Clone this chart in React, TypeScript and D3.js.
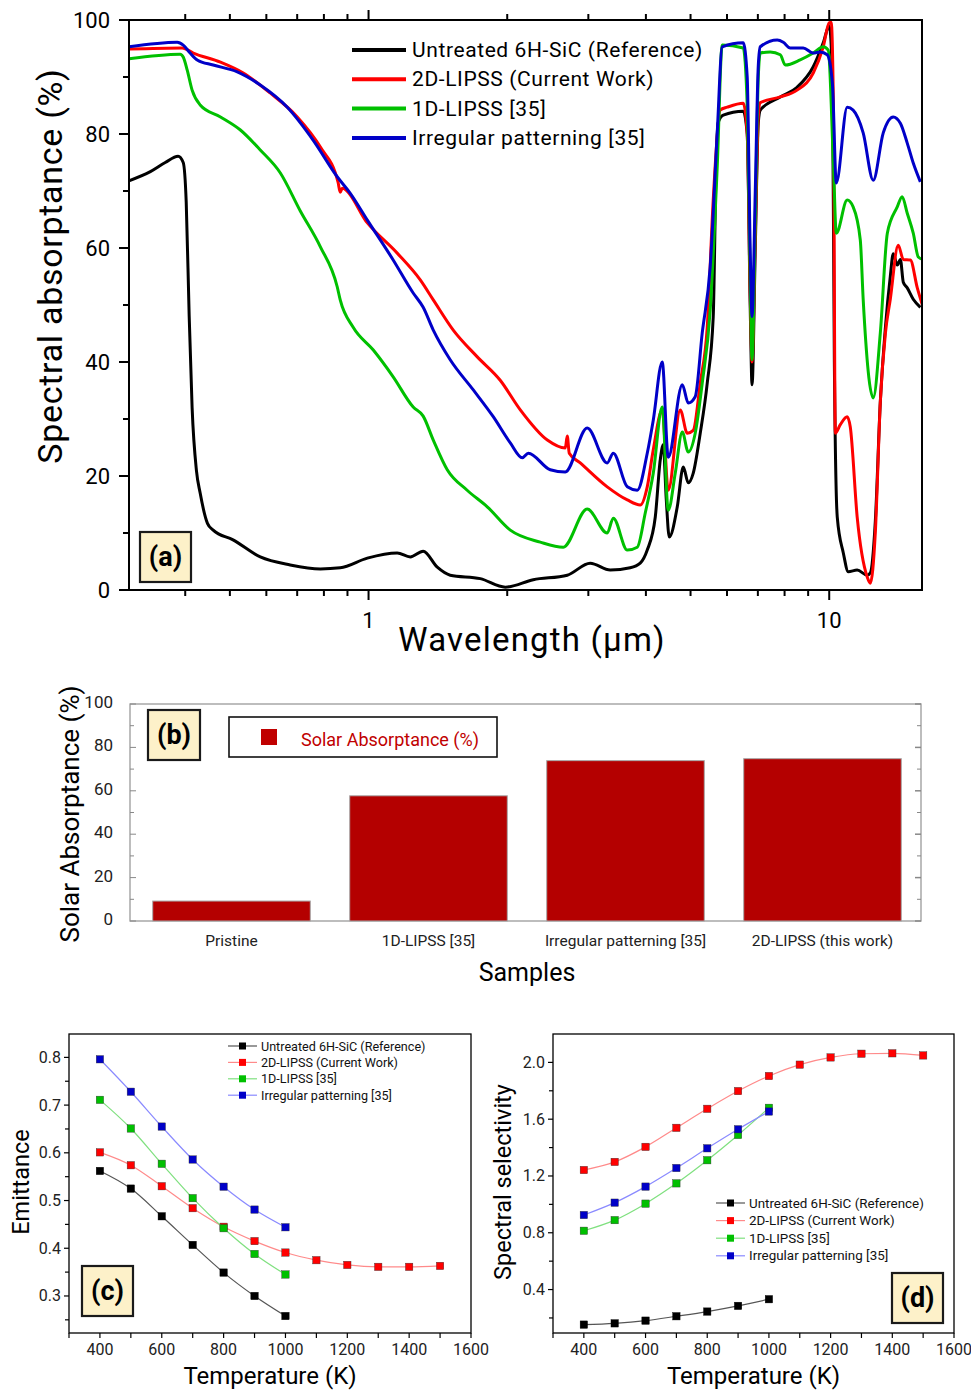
import * as d3 from "d3";

const FONT = "Roboto, 'DejaVu Sans', sans-serif";
const NARROW = "'Liberation Sans Narrow', Roboto, sans-serif";

// (a) spectral absorptance, [wavelength in µm, absorptance %]
const absUntreated = [
  [0.302, 71.8], [0.336, 73.4], [0.362, 75.0], [0.386, 76.1], [0.396, 75.0], [0.402, 68], [0.408, 48], [0.414, 32],
  [0.423, 21], [0.431, 17], [0.447, 11.7], [0.46, 10.5], [0.508, 8.8], [0.582, 5.8], [0.676, 4.4], [0.786, 3.7],
  [0.868, 3.9], [0.994, 5.6], [1.154, 6.5], [1.232, 5.8], [1.314, 6.8], [1.41, 4.0], [1.504, 2.6], [1.748, 2.0],
  [1.981, 0.5], [2.278, 1.8], [2.7, 2.6], [3.028, 4.7], [3.347, 3.5], [3.698, 3.9], [3.888, 4.7], [4.027, 7.0],
  [4.192, 12.8], [4.297, 22.8], [4.362, 25.5], [4.428, 16], [4.495, 9.3], [4.679, 14.6], [4.822, 21.6], [4.943, 18.8],
  [5.068, 20.5], [5.248, 27.5], [5.435, 36.3], [5.6, 47.9], [5.684, 75], [5.741, 82], [5.888, 83.3], [6.506, 84],
  [6.637, 80], [6.736, 50], [6.8, 36], [6.91, 60], [7.015, 82], [7.085, 84.2], [7.83, 86.5], [8.515, 88.2],
  [9.233, 91.8], [9.705, 96], [10.0, 99], [10.16, 90], [10.26, 40], [10.41, 12.8], [10.73, 6.5], [11.0, 3.2],
  [11.5, 3.5], [12.09, 2.6], [12.28, 3], [12.59, 12], [12.91, 33], [13.24, 46], [13.57, 55], [13.77, 59],
  [14.05, 57], [14.27, 58], [14.48, 54], [14.77, 53], [15.22, 51], [15.77, 49.6],
];
const abs2D = [
  [0.302, 94.9], [0.394, 95.1], [0.4165, 94.2], [0.477, 92.6], [0.5346, 90.7], [0.6115, 87.2], [0.7003, 83],
  [0.786, 77.7], [0.8588, 71.5], [0.868, 69.8], [0.877, 70.5], [0.994, 64.4], [1.154, 59.1], [1.295, 54.4],
  [1.382, 50.9], [1.527, 45.6], [1.722, 40.9], [1.931, 36.8], [2.135, 31.6], [2.444, 26.3], [2.673, 24.9],
  [2.7, 27], [2.727, 24], [2.881, 22.3], [3.297, 18.1], [3.645, 15.8], [3.888, 14.9], [4.027, 18.1], [4.15, 24.6],
  [4.34, 31.6], [4.473, 17.5], [4.749, 31.6], [4.919, 27.5], [5.068, 28], [5.248, 36.3], [5.435, 46.1], [5.6, 68.4],
  [5.799, 84.2], [6.007, 84.7], [6.506, 85.4], [6.637, 80], [6.736, 52], [6.8, 40], [6.91, 62], [7.015, 83],
  [7.085, 85.5], [7.83, 86.5], [8.515, 87.7], [9.233, 90.7], [9.705, 95.3], [10.0, 99.5], [10.1, 99.6], [10.21, 85],
  [10.31, 27.5], [10.57, 29], [10.94, 30.4], [11.11, 28.6], [11.5, 12.8], [12.09, 2.3], [12.28, 1.2], [12.59, 10],
  [12.91, 33], [13.24, 45], [13.57, 51], [14.12, 60.5], [14.48, 58], [15.0, 57.9], [15.53, 53], [15.93, 50],
];
const abs1D = [
  [0.302, 93.2], [0.39, 94], [0.396, 93.5], [0.404, 91.2], [0.414, 87.7], [0.431, 85.1], [0.477, 83], [0.527, 80.7],
  [0.582, 77.2], [0.643, 73.2], [0.711, 66.5], [0.786, 60.2], [0.855, 53.2], [0.868, 50.9], [0.926, 46.1],
  [1.024, 42.1], [1.131, 37.4], [1.25, 32.1], [1.314, 30.5], [1.382, 26.3], [1.482, 21.1], [1.637, 17.5],
  [1.81, 14.6], [2.031, 10.5], [2.359, 8.4], [2.646, 7.5], [2.983, 14.2], [3.297, 10], [3.398, 12.6], [3.645, 7.0],
  [3.831, 7.5], [3.987, 13.5], [4.15, 20.5], [4.34, 32.1], [4.473, 14], [4.632, 20.5], [4.798, 27.7], [4.943, 24.2],
  [5.118, 27.5], [5.301, 36.3], [5.516, 49.1], [5.713, 74.2], [5.858, 95.6], [6.506, 95.1], [6.637, 85], [6.736, 55],
  [6.8, 40.4], [6.91, 65], [7.015, 90], [7.085, 94.2], [7.447, 94.4], [7.83, 93.9], [8.028, 92.1], [8.65, 93],
  [9.233, 94.2], [9.705, 95.3], [9.95, 94.7], [10.21, 75], [10.36, 62.6], [10.94, 68.4], [11.27, 67.2],
  [11.68, 61.4], [11.85, 51], [12.46, 33.7], [12.91, 45.1], [13.37, 62.6], [14.05, 67.2], [14.4, 69], [14.77, 66.1],
  [15.22, 62.6], [15.61, 58.4], [15.93, 58],
];
const absIrregular = [
  [0.302, 95.3], [0.3844, 96.1], [0.396, 95.6], [0.41, 94.2], [0.4247, 93], [0.46, 92.1], [0.5188, 90.9],
  [0.582, 88.6], [0.6662, 84.7], [0.7585, 78.9], [0.855, 72.5], [0.9127, 69.6], [0.994, 64.9], [1.131, 57.9],
  [1.25, 52.1], [1.314, 49.6], [1.382, 45.6], [1.504, 40.4], [1.688, 35.1], [1.865, 30.4], [2.031, 25.8],
  [2.156, 23.2], [2.222, 24], [2.48, 21.1], [2.673, 20.7], [2.983, 28.4], [3.297, 22.3], [3.398, 24], [3.645, 18.1],
  [3.831, 17.5], [4.027, 24], [4.15, 29.8], [4.34, 40], [4.473, 23.3], [4.798, 36], [4.943, 32.8], [5.118, 33.9],
  [5.301, 45.1], [5.516, 56.7], [5.713, 80.2], [5.858, 95.3], [6.506, 96], [6.637, 90], [6.736, 60], [6.8, 48],
  [6.91, 70], [7.015, 92], [7.085, 95.3], [7.712, 96.5], [7.948, 96.1], [8.23, 95.1], [8.782, 95.1], [9.233, 94.2],
  [9.56, 94.4], [9.901, 93.9], [10.16, 88.9], [10.36, 71.4], [10.94, 84.7], [11.27, 84.2], [11.85, 80.2],
  [12.46, 71.9], [13.1, 80.2], [13.77, 83], [14.27, 81.9], [14.77, 78.4], [15.22, 74.9], [15.77, 71.6],
];
const seriesNames = ["Untreated 6H-SiC (Reference)", "2D-LIPSS (Current Work)", "1D-LIPSS [35]", "Irregular patterning [35]"];
const seriesColors = ["#000000", "#ff0000", "#00c000", "#0000c8"];
const seriesLight = ["#555555", "#ff8a8a", "#7fe07f", "#8a8aff"];

// (b) solar absorptance
const samples = ["Pristine", "1D-LIPSS [35]", "Irregular patterning [35]", "2D-LIPSS (this work)"];
const solarAbsorptance = [9.2, 57.7, 73.9, 74.8];

// (c), (d) vs temperature
const temperatures = [400, 500, 600, 700, 800, 900, 1000, 1100, 1200, 1300, 1400, 1500];
const emitUntreated = [0.562, 0.525, 0.467, 0.407, 0.349, 0.3, 0.258];
const emit2D = [0.601, 0.574, 0.53, 0.484, 0.445, 0.415, 0.391, 0.375, 0.365, 0.361, 0.361, 0.363];
const emit1D = [0.711, 0.651, 0.577, 0.505, 0.442, 0.388, 0.345];
const emitIrregular = [0.796, 0.728, 0.655, 0.586, 0.529, 0.481, 0.444];
const selUntreated = [0.153, 0.162, 0.181, 0.212, 0.245, 0.285, 0.332];
const sel2D = [1.242, 1.299, 1.405, 1.539, 1.673, 1.798, 1.904, 1.984, 2.035, 2.061, 2.064, 2.049];
const sel1D = [0.814, 0.889, 1.005, 1.148, 1.311, 1.489, 1.68];
const selIrregular = [0.925, 1.012, 1.125, 1.256, 1.395, 1.529, 1.654];

function LabelBox({ x, y, w, h, text, size }) {
  return (
    <g>
      <rect x={x} y={y} width={w} height={h} fill="#fdf1c9" stroke="#1a1a1a" strokeWidth={2.2} />
      <text x={x + w / 2} y={y + h / 2} textAnchor="middle" dominantBaseline="central"
        fontFamily={FONT} fontWeight="bold" fontSize={size}>{text}</text>
    </g>
  );
}

function PanelA() {
  const x = d3.scaleLog().domain([0.302, 15.9]).range([129, 922]);
  const y = d3.scaleLinear().domain([0, 100]).range([590, 20]);
  const line = d3.line<number[]>().x(d => x(d[0])).y(d => y(d[1])).curve(d3.curveMonotoneX);
  const series = [absUntreated, abs2D, abs1D, absIrregular];
  const yMajor = d3.range(0, 101, 20);
  const yMinor = d3.range(10, 100, 20);
  const xMajor = [1, 10];
  const xMinor = [0.4, 0.5, 0.6, 0.7, 0.8, 0.9, 2, 3, 4, 5, 6, 7, 8, 9];
  const [x0, x1] = x.range();
  const [y0, y1] = y.range();
  return (
    <g fontFamily={FONT}>
      <defs>
        <clipPath id="clipA"><rect x={x0} y={y1 - 2} width={x1 - x0} height={y0 - y1 + 2} /></clipPath>
      </defs>
      <g clipPath="url(#clipA)" fill="none" strokeWidth={3} strokeLinejoin="round">
        {series.map((s, i) => <path key={i} d={line(s)} stroke={seriesColors[i]} />)}
      </g>
      <rect x={x0} y={y1} width={x1 - x0} height={y0 - y1} fill="none" stroke="#000" strokeWidth={2} />
      {yMajor.map(v => (
        <g key={v}>
          <line x1={x0 - 10} x2={x0} y1={y(v)} y2={y(v)} stroke="#000" strokeWidth={2} />
          <text x={x0 - 19} y={y(v)} textAnchor="end" dominantBaseline="central" fontSize={22}>{v}</text>
        </g>
      ))}
      {yMinor.map(v => <line key={v} x1={x0 - 6} x2={x0} y1={y(v)} y2={y(v)} stroke="#000" strokeWidth={2} />)}
      {xMajor.map(v => (
        <g key={v}>
          <line x1={x(v)} x2={x(v)} y1={y0} y2={y0 + 10} stroke="#000" strokeWidth={2} />
          <line x1={x(v)} x2={x(v)} y1={y1} y2={y1 - 10} stroke="#000" strokeWidth={2} />
          <text x={x(v)} y={628} textAnchor="middle" fontSize={22}>{v}</text>
        </g>
      ))}
      {xMinor.map(v => (
        <g key={v}>
          <line x1={x(v)} x2={x(v)} y1={y0} y2={y0 + 6} stroke="#000" strokeWidth={2} />
          <line x1={x(v)} x2={x(v)} y1={y1} y2={y1 - 6} stroke="#000" strokeWidth={2} />
        </g>
      ))}
      <text x={532} y={651} textAnchor="middle" fontSize={33} letterSpacing={1.2}>Wavelength (μm)</text>
      <text transform="translate(62,266) rotate(-90)" textAnchor="middle" fontSize={34} letterSpacing={0.7}>
        Spectral absorptance (%)
      </text>
      {seriesNames.map((n, i) => (
        <g key={n} transform={`translate(0,${50 + i * 29.3})`}>
          <line x1={352} x2={406} y1={0} y2={0} stroke={seriesColors[i]} strokeWidth={4} />
          <text x={412} y={0} dominantBaseline="central" fontSize={21} letterSpacing={0.6}>{n}</text>
        </g>
      ))}
      <LabelBox x={140} y={532} w={51} h={50} text="(a)" size={27} />
    </g>
  );
}

function PanelB() {
  const x = d3.scaleBand().domain(samples).range([133, 921]).paddingInner(0.2).paddingOuter(0.1);
  const y = d3.scaleLinear().domain([0, 100]).range([921, 704]);
  const major = d3.range(0, 101, 20);
  const minor = d3.range(10, 100, 20);
  return (
    <g fontFamily={FONT}>
      <rect x={130} y={704} width={791} height={217} fill="none" stroke="#9a9a9a" strokeWidth={1.3} />
      {major.map(v => (
        <g key={v}>
          <line x1={130} x2={136} y1={y(v)} y2={y(v)} stroke="#888" />
          <line x1={921} x2={915} y1={y(v)} y2={y(v)} stroke="#888" strokeWidth={1.5} />
          <text x={113} y={y(v) - 2} textAnchor="end" dominantBaseline="central" fontFamily={NARROW}
            fontSize={17} fill="#222">{v}</text>
        </g>
      ))}
      {minor.map(v => (
        <g key={v}>
          <line x1={130} x2={134} y1={y(v)} y2={y(v)} stroke="#888" />
          <line x1={921} x2={917} y1={y(v)} y2={y(v)} stroke="#888" />
        </g>
      ))}
      {samples.map((s, i) => (
        <g key={s}>
          <rect x={x(s)} y={y(solarAbsorptance[i])} width={x.bandwidth()} height={y(0) - y(solarAbsorptance[i])}
            fill="#b40000" stroke="#a8a8a8" strokeWidth={1} />
          <text x={x(s) + x.bandwidth() / 2} y={946} textAnchor="middle" fontFamily={NARROW} fontSize={15.5}
            fill="#222">{s}</text>
        </g>
      ))}
      <text x={527} y={981} textAnchor="middle" fontSize={25}>Samples</text>
      <text transform="translate(79,814) rotate(-90)" textAnchor="middle" fontSize={26}>Solar Absorptance (%)</text>
      <rect x={229} y={717} width={268} height={40} fill="#fff" stroke="#111" strokeWidth={1.6} />
      <rect x={261} y={729} width={16} height={16} fill="#c00000" />
      <text x={301} y={739} dominantBaseline="central" fontFamily={NARROW} fontSize={18} fill="#c00000">
        Solar Absorptance (%)
      </text>
      <LabelBox x={148} y={710} w={52} h={50} text="(b)" size={27} />
    </g>
  );
}

function TempPanel({ left, right, yDomain, yMajor, yMinor, data, yTitle, titleX, titleSize, legendX, legendY,
  legendGap, legendSize, box }) {
  const top = 1034, bottom = 1333;
  const x = d3.scaleLinear().domain([300, 1600]).range([left, right]);
  const y = d3.scaleLinear().domain(yDomain).range([bottom, top]);
  const xTicks = d3.range(300, 1601, 100);
  const xLabels = d3.range(400, 1601, 200);
  const line = d3.line<number>().x((d, i) => x(temperatures[i])).y(d => y(d)).curve(d3.curveMonotoneX);
  return (
    <g fontFamily={FONT}>
      <rect x={left} y={top} width={right - left} height={bottom - top} fill="none" stroke="#000" strokeWidth={1.3} />
      {xTicks.map(v => <line key={v} x1={x(v)} x2={x(v)} y1={bottom} y2={bottom + 5} stroke="#000" strokeWidth={1.2} />)}
      {xLabels.map(v => (
        <text key={v} x={x(v)} y={1355} textAnchor="middle" fontSize={16} fill="#222">{v}</text>
      ))}
      {yMajor.map(v => (
        <g key={v}>
          <line x1={left - 5} x2={left} y1={y(v)} y2={y(v)} stroke="#000" strokeWidth={1.2} />
          <text x={left - 8} y={y(v)} textAnchor="end" dominantBaseline="central" fontSize={16} fill="#222">
            {v.toFixed(1)}
          </text>
        </g>
      ))}
      {yMinor.map(v => <line key={v} x1={left - 4} x2={left} y1={y(v)} y2={y(v)} stroke="#000" strokeWidth={1.2} />)}
      {data.map((s, i) => (
        <g key={i}>
          <path d={line(s)} fill="none" stroke={seriesLight[i]} strokeWidth={1.2} />
          {s.map((v, j) => (
            <rect key={j} x={x(temperatures[j]) - 3.7} y={y(v) - 3.7} width={7.4} height={7.4}
              fill={seriesColors[i]} stroke={i === 0 ? "#000" : "#333"} strokeWidth={0.4} />
          ))}
        </g>
      ))}
      {seriesNames.map((n, i) => (
        <g key={n} transform={`translate(${legendX},${legendY + i * legendGap})`}>
          <line x1={0} x2={29} y1={0} y2={0} stroke={seriesLight[i]} strokeWidth={1.2} />
          <rect x={11} y={-3.5} width={7} height={7} fill={seriesColors[i]} />
          <text x={33} y={0} dominantBaseline="central" fontSize={legendSize} fill="#111">{n}</text>
        </g>
      ))}
      <text x={(left + right) / 2} y={1384} textAnchor="middle" fontSize={24}>Temperature (K)</text>
      <text transform={`translate(${titleX},1182) rotate(-90)`} textAnchor="middle" fontSize={titleSize}>{yTitle}</text>
      <LabelBox x={box[0]} y={box[1]} w={51} h={50} text={box[2]} size={27} />
    </g>
  );
}

export default function App() {
  return (
    <svg width={971} height={1390} style={{ position: "absolute", left: 0, top: 0, background: "#fff" }}>
      <rect width={971} height={1390} fill="#fff" />
      <PanelA />
      <PanelB />
      <TempPanel left={69} right={471} yDomain={[0.2224, 0.849]} yMajor={[0.3, 0.4, 0.5, 0.6, 0.7, 0.8]}
        yMinor={[0.25, 0.35, 0.45, 0.55, 0.65, 0.75]} data={[emitUntreated, emit2D, emit1D, emitIrregular]}
        yTitle="Emittance" titleX={29} titleSize={23.5} legendX={228} legendY={1046} legendGap={16.4}
        legendSize={12.6} box={[82, 1266, "(c)"]} />
      <TempPanel left={553} right={954} yDomain={[0.094, 2.2]} yMajor={[0.4, 0.8, 1.2, 1.6, 2.0]}
        yMinor={[0.2, 0.6, 1.0, 1.4, 1.8]} data={[selUntreated, sel2D, sel1D, selIrregular]}
        yTitle="Spectral selectivity" titleX={511} titleSize={23.5} legendX={716} legendY={1203} legendGap={17.6}
        legendSize={13.4} box={[892, 1273, "(d)"]} />
    </svg>
  );
}
